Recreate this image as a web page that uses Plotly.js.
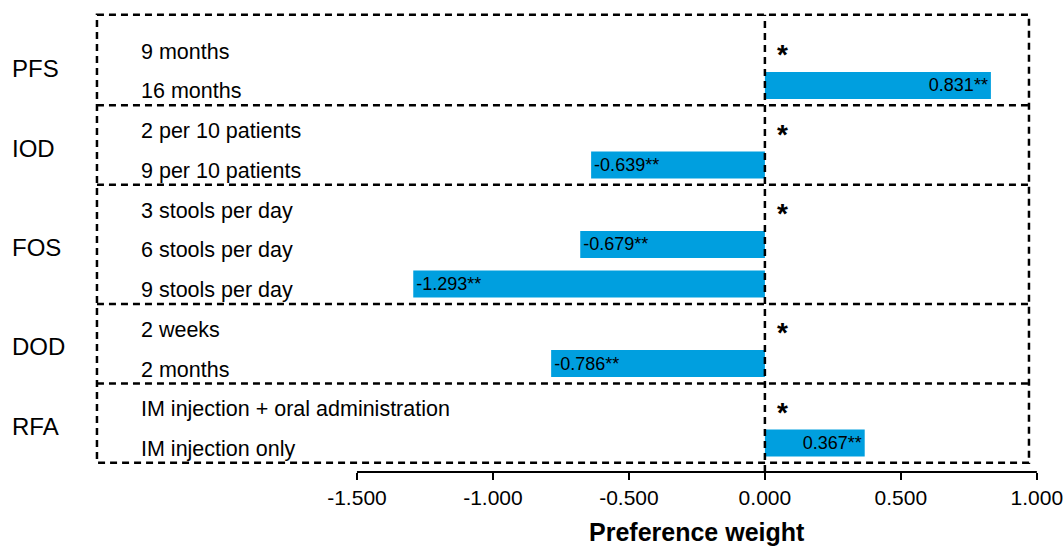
<!DOCTYPE html>
<html>
<head>
<meta charset="utf-8">
<script src="https://cdn.plot.ly/plotly-3.0.1.min.js"></script>
<style>
  html, body { margin: 0; padding: 0; background: #ffffff; }
  #chart { width: 1064px; height: 547px; }
</style>
</head>
<body>
<div id="chart"></div>
<script>
// Attribute levels, top to bottom
const levels = [
  "9 months", "16 months",
  "2 per 10 patients", "9 per 10 patients",
  "3 stools per day", "6 stools per day", "9 stools per day",
  "2 weeks", "2 months",
  "IM injection + oral administration", "IM injection only"
];
// Preference weights (null = reference level)
const weights = [null, 0.831, null, -0.639, null, -0.679, -1.293, null, -0.786, null, 0.367];
// Attribute groups and how many levels each one has
const groups = ["PFS", "IOD", "FOS", "DOD", "RFA"];
const groupSizes = [2, 2, 3, 2, 2];
// Axis ticks
const xTicks = [-1.5, -1.0, -0.5, 0.0, 0.5, 1.0];
const xTickText = xTicks.map(v => v.toFixed(3));

const FONT = "Liberation Sans, Arial, Helvetica, sans-serif";
const BAR_COLOR = "#009fdf";
const DASH = "7px,5px";
const DASH_W = 2.5;

const yTop = -0.85, yBottom = 10.73;   // visible row range
const boxTop = -0.78;                  // upper edge of the dashed frame
const boxLeft = 0.0042, boxRight = 0.9915;

const barText = weights.map(v => v === null ? "" : v.toFixed(3) + "**");

const bars = {
  type: "bar",
  orientation: "h",
  x: weights,
  y: levels,
  width: 0.68,
  marker: { color: BAR_COLOR, line: { width: 0 } },
  text: barText,
  textposition: "inside",
  insidetextanchor: "end",
  constraintext: "none",
  textfont: { family: FONT, size: 18, color: "#000000" },
  hoverinfo: "x+y",
  showlegend: false
};

// Dashed frame split into one panel per attribute group
const shapes = [];
shapes.push({
  type: "rect", layer: "above",
  xref: "paper", yref: "y",
  x0: boxLeft, x1: boxRight, y0: boxTop, y1: levels.length - 0.5,
  line: { color: "#000000", width: DASH_W, dash: DASH }
});
let start = 0;
const groupStarts = [];
groupSizes.forEach((n, i) => {
  groupStarts.push(start);
  if (i > 0) {
    shapes.push({
      type: "line", layer: "above",
      xref: "paper", yref: "y",
      x0: boxLeft, x1: boxRight, y0: start - 0.5, y1: start - 0.5,
      line: { color: "#000000", width: DASH_W, dash: DASH }
    });
  }
  start += n;
});
// Vertical dashed line at zero
shapes.push({
  type: "line", layer: "above",
  xref: "x", yref: "y",
  x0: 0, x1: 0, y0: yBottom, y1: boxTop,
  line: { color: "#000000", width: DASH_W, dash: DASH }
});
// Axis baseline spanning the tick range only
shapes.push({
  type: "line", layer: "above",
  xref: "x", yref: "paper",
  x0: xTicks[0], x1: xTicks[xTicks.length - 1], y0: 0, y1: 0,
  line: { color: "#000000", width: 2 }
});

const annotations = [];
// Level labels inside the panels
levels.forEach(name => {
  annotations.push({
    xref: "paper", yref: "y",
    x: 0.0487, y: name, yshift: -6,
    xanchor: "left", yanchor: "middle",
    text: name, showarrow: false,
    font: { family: FONT, size: 21.5, color: "#000000" }
  });
});
// Group labels on the left, stars marking each reference level
groups.forEach((g, i) => {
  const s = groupStarts[i];
  annotations.push({
    xref: "paper", yref: "y",
    x: -0.0879, y: s + (groupSizes[i] - 1) / 2, yshift: -3,
    xanchor: "left", yanchor: "middle",
    text: g, showarrow: false,
    font: { family: FONT, size: 24, color: "#000000" }
  });
  annotations.push({
    xref: "x", yref: "y",
    x: 0.065, y: levels[s], yshift: -9,
    xanchor: "center", yanchor: "middle",
    text: "*", showarrow: false,
    font: { family: FONT, size: 28, color: "#000000", weight: "bold" }
  });
});
// Axis title centred under the tick range
annotations.push({
  xref: "x", yref: "paper",
  x: (xTicks[0] + xTicks[xTicks.length - 1]) / 2, y: -0.131,
  xanchor: "center", yanchor: "middle",
  text: "<b>Preference weight</b>", showarrow: false,
  font: { family: FONT, size: 25, color: "#000000" }
});

const layout = {
  width: 1064,
  height: 547,
  margin: { l: 93, r: 27, t: 12, b: 75 },
  paper_bgcolor: "#ffffff",
  plot_bgcolor: "#ffffff",
  font: { family: FONT, color: "#000000" },
  showlegend: false,
  xaxis: {
    range: [-2.4706, 1.0005],
    tickvals: xTicks,
    ticktext: xTickText,
    ticks: "outside",
    ticklen: 7,
    tickwidth: 2,
    tickcolor: "#000000",
    tickfont: { family: FONT, size: 21, color: "#000000" },
    ticklabeloverflow: "allow",
    showgrid: false,
    zeroline: false,
    showline: false,
    fixedrange: true
  },
  yaxis: {
    type: "category",
    categoryorder: "array",
    categoryarray: levels,
    range: [yBottom, yTop],
    showticklabels: false,
    ticks: "",
    showgrid: false,
    zeroline: false,
    showline: false,
    fixedrange: true
  },
  shapes: shapes,
  annotations: annotations
};

Plotly.newPlot("chart", [bars], layout, { displayModeBar: false, staticPlot: true });
</script>
</body>
</html>
